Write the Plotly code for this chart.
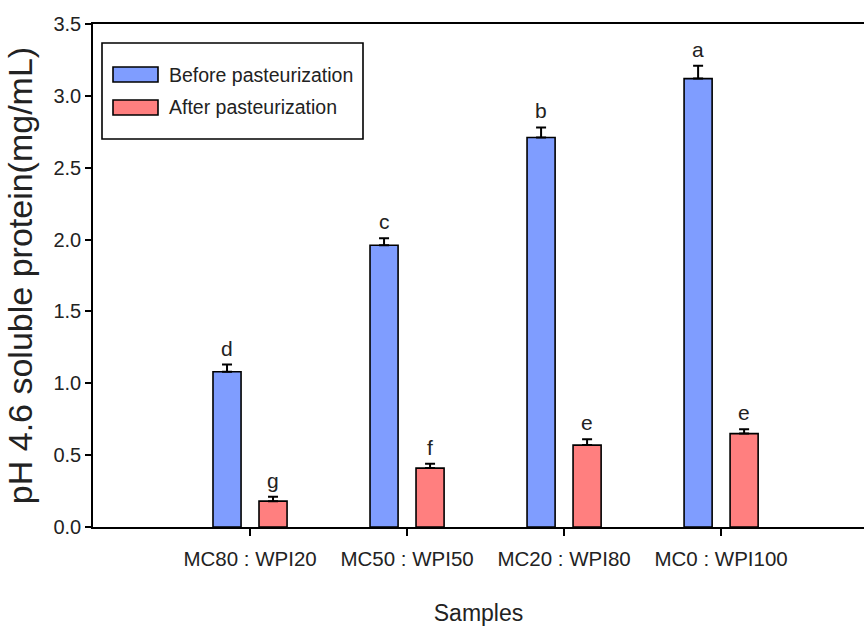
import plotly.graph_objects as go

# Sample blends (micellar casein : whey protein isolate)
samples = ["MC80 : WPI20", "MC50 : WPI50", "MC20 : WPI80", "MC0 : WPI100"]

# pH 4.6 soluble protein (mg/mL), mean and standard deviation
before_mean = [1.08, 1.96, 2.71, 3.12]
before_sd = [0.05, 0.05, 0.07, 0.09]
after_mean = [0.18, 0.41, 0.57, 0.65]
after_sd = [0.03, 0.03, 0.04, 0.03]

# Significance letters
before_letters = ["d", "c", "b", "a"]
after_letters = ["g", "f", "e", "e"]

series_names = ["Before pasteurization", "After pasteurization"]

BLUE = "#7f9dff"
RED = "#ff7f7f"
FONT = "Liberation Sans, Arial, sans-serif"
TXT = "#222222"

fig = go.Figure()

for name, mean, sd, color in [
    (series_names[0], before_mean, before_sd, BLUE),
    (series_names[1], after_mean, after_sd, RED),
]:
    fig.add_trace(go.Bar(
        x=samples, y=mean, name=name,
        marker=dict(color=color, line=dict(color="black", width=1.6)),
        error_y=dict(type="data", array=sd, arrayminus=[0] * len(sd),
                     symmetric=False, color="black", thickness=2, width=5),
        showlegend=False,
    ))

# Letters above the error bars
for mean, sd, letters, shift in [
    (before_mean, before_sd, before_letters, -23),
    (after_mean, after_sd, after_letters, 23),
]:
    for s, m, e, lab in zip(samples, mean, sd, letters):
        fig.add_annotation(x=s, y=m + e, text=lab, showarrow=False,
                           xshift=shift, yshift=3, yanchor="bottom",
                           font=dict(family=FONT, size=21, color=TXT))

# Legend box drawn in plot-area coordinates
W, H, X0, Y0 = 771.0, 503.0, 93.0, 527.0


def px(xp):
    return (xp - X0) / W


def py(yp):
    return (Y0 - yp) / H


fig.add_shape(type="rect", xref="paper", yref="paper",
              x0=px(102), x1=px(363), y0=py(139), y1=py(43),
              line=dict(color="black", width=1.6), fillcolor="white", layer="above")
for (top, bot), color, name in [((67, 82), BLUE, series_names[0]),
                                 ((100, 115), RED, series_names[1])]:
    fig.add_shape(type="rect", xref="paper", yref="paper",
                  x0=px(113), x1=px(158), y0=py(bot), y1=py(top),
                  line=dict(color="black", width=1.6), fillcolor=color, layer="above")
    fig.add_annotation(xref="paper", yref="paper", x=px(167), y=py((top + bot) / 2),
                       text=name, showarrow=False, xanchor="left", yanchor="middle",
                       font=dict(family=FONT, size=19.5, color=TXT))

fig.update_layout(
    width=864, height=632,
    margin=dict(l=93, r=0, t=24, b=105),
    paper_bgcolor="white", plot_bgcolor="white",
    barmode="group", bargap=0.414, bargroupgap=0.39,
    font=dict(family=FONT, color=TXT),
)

fig.update_xaxes(
    range=[-1, 3.91], showline=True, linecolor="black", linewidth=2, mirror=True,
    ticks="outside", ticklen=7, tickwidth=1.5, tickcolor="black",
    ticklabelstandoff=5,
    tickfont=dict(family=FONT, size=20.5, color=TXT),
    title=dict(text="Samples", font=dict(family=FONT, size=23, color=TXT), standoff=36),
    showgrid=False, zeroline=False,
)
fig.update_yaxes(
    range=[0, 3.5], dtick=0.5, tickformat=".1f",
    showline=True, linecolor="black", linewidth=1.6,
    ticks="outside", ticklen=6, tickwidth=1.5, tickcolor="black",
    tickfont=dict(family=FONT, size=20, color=TXT),
    title=dict(text="pH 4.6 soluble protein(mg/mL)",
               font=dict(family=FONT, size=34, color=TXT),
               standoff=10),
    showgrid=False, zeroline=False,
)

fig.write_html("out.html")
